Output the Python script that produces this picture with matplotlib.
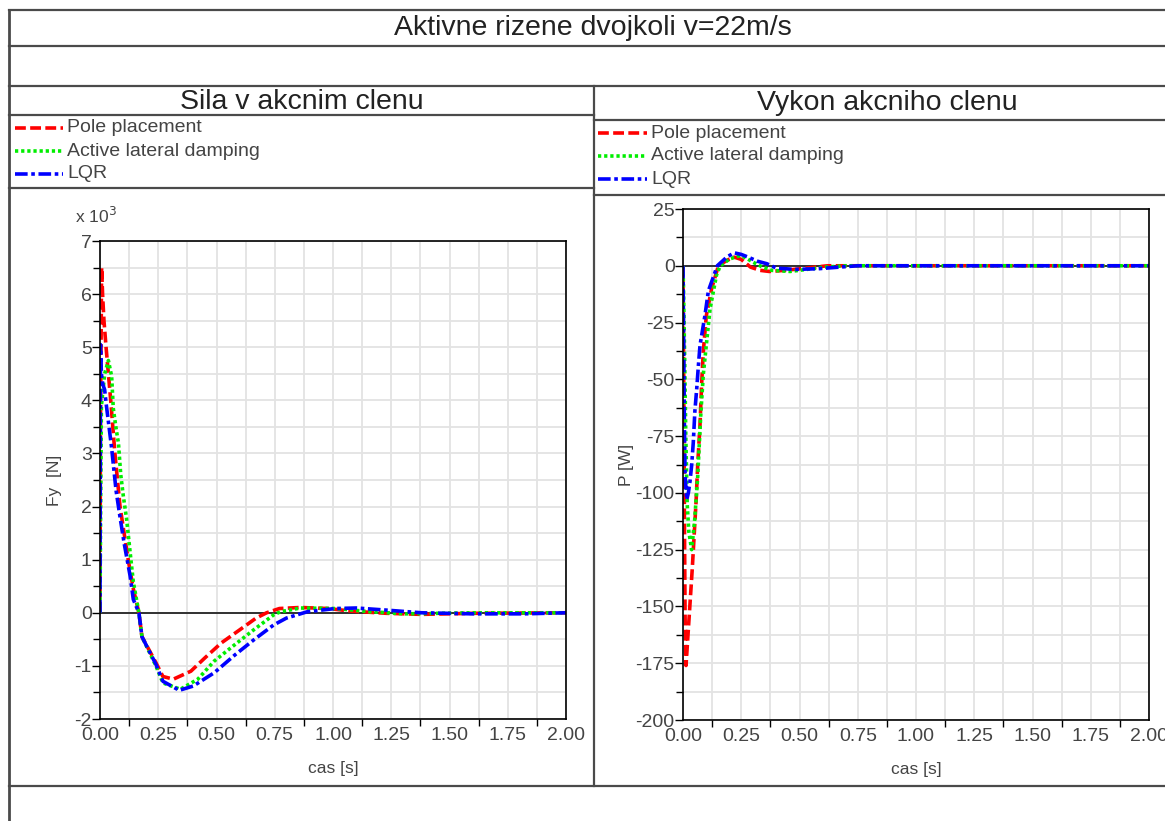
import numpy as np
import matplotlib
matplotlib.use("Agg")
import matplotlib.pyplot as plt
from matplotlib.ticker import MultipleLocator, FormatStrFormatter

plt.rcParams['font.family'] = ['Liberation Sans', 'DejaVu Sans']
plt.rcParams['axes.unicode_minus'] = False

W, H = 1165, 821

title = "Aktivne rizene dvojkoli v=22m/s"
panel_titles = ["Sila v akcnim clenu", "Vykon akcniho clenu"]
series_names = ["Pole placement", "Active lateral damping", "LQR"]

# --- Sila (force), values in 10^3 N ---
t_f_pp = [0, 0.002, 0.007, 0.011, 0.017, 0.026, 0.036, 0.046, 0.064, 0.086, 0.121, 0.143, 0.167,
          0.18, 0.24, 0.27, 0.315, 0.39, 0.45, 0.52, 0.60, 0.67, 0.715, 0.77, 0.86, 0.98, 1.08,
          1.23, 1.38, 1.6, 2.0]
f_pp = [0, 3.6, 6.5, 6.0, 5.5, 5.0, 4.5, 4.0, 3.0, 2.0, 1.0, 0.45, 0,
        -0.45, -0.94, -1.2, -1.25, -1.1, -0.85, -0.57, -0.32, -0.1, 0, 0.08, 0.1, 0.08, 0.03,
        -0.01, -0.03, -0.01, 0]

t_f_ald = [0, 0.003, 0.006, 0.02, 0.036, 0.05, 0.057, 0.069, 0.079, 0.089, 0.10, 0.114, 0.129,
           0.143, 0.167, 0.18, 0.24, 0.27, 0.345, 0.42, 0.49, 0.57, 0.66, 0.745, 0.775, 0.86,
           1.01, 1.16, 1.31, 1.6, 2.0]
f_ald = [0, 2.2, 3.9, 4.5, 4.75, 4.45, 3.85, 3.47, 3.2, 2.6, 2.2, 1.77, 1.15,
         0.58, 0, -0.45, -1.0, -1.32, -1.44, -1.25, -0.91, -0.63, -0.32, -0.04, 0.02, 0.09,
         0.08, 0.02, -0.02, 0, 0]

t_f_lqr = [0, 0.002, 0.006, 0.012, 0.02, 0.026, 0.036, 0.05, 0.057, 0.069, 0.086, 0.104, 0.129,
           0.143, 0.167, 0.18, 0.24, 0.27, 0.34, 0.40, 0.49, 0.58, 0.66, 0.745, 0.80, 0.89,
           1.01, 1.10, 1.23, 1.38, 1.6, 1.82, 2.0]
f_lqr = [0, 5.05, 4.5, 4.3, 4.2, 3.95, 3.6, 3.1, 2.8, 2.3, 1.8, 1.3, 0.7,
         0.25, 0, -0.45, -0.97, -1.29, -1.46, -1.38, -1.13, -0.79, -0.51, -0.23, -0.1, 0.02,
         0.08, 0.09, 0.05, 0, -0.02, -0.02, 0]

# --- Vykon (power), W ---
t_p_pp = [0, 0.003, 0.006, 0.009, 0.013, 0.023, 0.04, 0.056, 0.063, 0.073, 0.08, 0.087, 0.10,
          0.123, 0.152, 0.19, 0.22, 0.25, 0.29, 0.33, 0.37, 0.44, 0.53, 0.62, 2.0]
p_pp = [0, -50, -110, -155, -176, -160, -133, -104, -88, -70, -52, -38, -22,
        -10, 0, 2.5, 3.8, 2.8, -0.6, -2, -2.5, -2, -1, 0, 0]

t_p_ald = [0, 0.003, 0.007, 0.012, 0.018, 0.025, 0.037, 0.05, 0.063, 0.076, 0.087, 0.10, 0.116,
           0.144, 0.16, 0.20, 0.245, 0.27, 0.30, 0.34, 0.38, 0.46, 0.53, 0.61, 0.70, 2.0]
p_ald = [0, -15, -40, -75, -105, -117, -125, -112, -93, -66, -48, -35, -19,
         -4, 0, 3, 4.5, 3.5, 1.6, -0.5, -2, -2.5, -1.6, -0.6, 0, 0]

t_p_lqr = [0, 0.003, 0.006, 0.009, 0.016, 0.023, 0.03, 0.037, 0.044, 0.051, 0.059, 0.066, 0.073,
           0.094, 0.109, 0.13, 0.147, 0.19, 0.22, 0.25, 0.28, 0.32, 0.36, 0.40, 0.48, 0.58,
           0.67, 0.75, 2.0]
p_lqr = [0, -35, -70, -92, -103, -100, -95, -88, -78, -64, -54, -44, -35,
         -22, -11, -5, 0, 4, 5.7, 5, 3.8, 2, 0.9, -1.0, -1.6, -1.3, -0.6, 0, 0]

colors = ["#ff0000", "#00ee00", "#0000ff"]
dashes = [(3, 1.2), (0.9, 0.8), (3.5, 1, 1, 1)]
lw = 2.6
tick_col = "#444444"
frame_col = "#4a4a4a"


def px_axes(fig, x0, y0, x1, y1):
    return fig.add_axes([x0 / W, 1 - y1 / H, (x1 - x0) / W, (y1 - y0) / H])


fig = plt.figure(figsize=(W / 100, H / 100), dpi=100)

ax1 = px_axes(fig, 100, 241, 566, 719)
ax2 = px_axes(fig, 683, 209, 1149, 720)

for ax, data in [(ax1, [(t_f_pp, f_pp), (t_f_ald, f_ald), (t_f_lqr, f_lqr)]),
                 (ax2, [(t_p_pp, p_pp), (t_p_ald, p_ald), (t_p_lqr, p_lqr)])]:
    ax.axhline(0, color="black", lw=1.1, zorder=1)
    for (t, v), c, d in zip(data, colors, dashes):
        ax.plot(t, v, color=c, lw=lw, dashes=d, zorder=2)
    ax.set_xlim(0, 2)
    ax.xaxis.set_major_locator(MultipleLocator(0.25))
    ax.xaxis.set_minor_locator(MultipleLocator(0.125))
    ax.xaxis.set_major_formatter(FormatStrFormatter("%.2f"))
    ax.grid(True, which="both", color="#e3e3e3", lw=1.3, zorder=0)
    ax.set_axisbelow(True)
    ax.tick_params(which="both", colors="black", labelcolor=tick_col, labelsize=14, width=1)
    ax.tick_params(axis="x", which="major", length=0, pad=6)
    ax.tick_params(axis="x", which="minor", length=5)
    ax.tick_params(axis="y", which="major", length=6, pad=0)
    ax.tick_params(axis="y", which="minor", length=5)
    for s in ax.spines.values():
        s.set_linewidth(1.2)
    ax.set_xlabel("cas [s]", fontsize=12.5, color=tick_col, labelpad=12)

ax1.set_ylim(-2, 7)
ax1.yaxis.set_major_locator(MultipleLocator(1))
ax1.yaxis.set_minor_locator(MultipleLocator(0.5))
ax1.set_ylabel("Fy  [N]", fontsize=12.5, color=tick_col, labelpad=9)

ax2.set_ylim(-200, 25)
ax2.yaxis.set_major_locator(MultipleLocator(25))
ax2.yaxis.set_minor_locator(MultipleLocator(12.5))
ax2.set_ylabel("P [W]", fontsize=12.5, color=tick_col, labelpad=1)

# overlay in pixel coordinates for the report frame, titles and legends
ov = fig.add_axes([0, 0, 1, 1])
ov.set_xlim(0, W)
ov.set_ylim(H, 0)
ov.axis("off")
ov.patch.set_visible(False)

for y in [10, 46, 86, 786]:
    ov.plot([9, W], [y, y], color=frame_col, lw=1.6)
ov.plot([9, 594], [115, 115], color=frame_col, lw=1.6)
ov.plot([9, 594], [188, 188], color=frame_col, lw=1.6)
ov.plot([594, W], [120, 120], color=frame_col, lw=1.6)
ov.plot([594, W], [195, 195], color=frame_col, lw=1.6)
ov.plot([9, 9], [10, H], color=frame_col, lw=2)
ov.plot([594, 594], [86, 786], color=frame_col, lw=1.6)

ov.text(593, 28, title, ha="center", va="center", fontsize=20.5, color="#222222")
ov.text(302, 102, panel_titles[0], ha="center", va="center", fontsize=20.5, color="#222222")
ov.text(887, 103, panel_titles[1], ha="center", va="center", fontsize=20.5, color="#222222")

for (x0, x1, xt, ys) in [(15, 63, 67, [128, 151, 174]), (598, 647, 651, [133, 156, 179])]:
    for name, c, d, y in zip(series_names, colors, dashes, ys):
        ov.plot([x0, x1], [y, y], color=c, lw=lw, dashes=d)
        ov.text(xt, y, name, ha="left", va="center", fontsize=14, color=tick_col)

ov.text(75, 216, r"x 10$^3$", ha="left", va="center", fontsize=12.5, color=tick_col)

fig.savefig("out.png", dpi=100)
